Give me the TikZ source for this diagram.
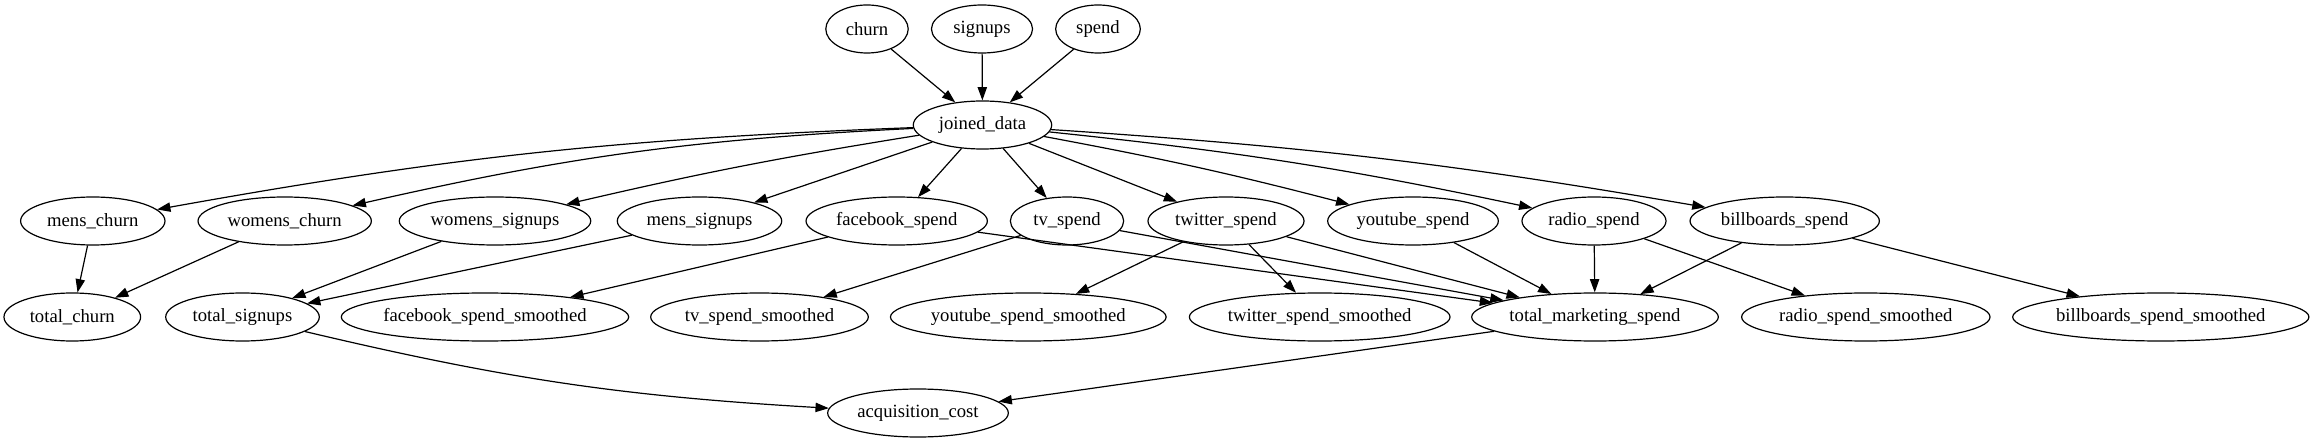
\documentclass[tikz,border=0pt]{standalone}
\usepackage{fontspec}
\setmainfont{Liberation Serif}
\usetikzlibrary{shapes.geometric,arrows.meta}
\tikzset{
	job/.style={draw, ellipse, line width=0.9pt, inner sep=0pt, minimum height=36pt, font=\fontsize{14}{16}\selectfont},
	dep/.style={-{Triangle[length=10pt,width=7pt]}, line width=0.9pt},
}

\begin{document}
\begin{tikzpicture}[x=0.75pt,y=0.75pt]
		\useasboundingbox (0,0) rectangle (2313,443);
		%%%%% SOURCES %%%%%
		\node[job, minimum width=61.8pt] (churn) at (867,414) {churn};
		\node[job, minimum width=75.8pt] (signups) at (982,414) {signups};
		\node[job, minimum width=63.5pt] (spend) at (1098,414) {spend};
		\node[job, minimum width=103.8pt] (joined) at (982.5,318) {joined\_data};
		
		%%%%% SPLITS %%%%%
		\node[job, minimum width=108.3pt] (menschurn) at (92.8,222) {mens\_churn};
		\node[job, minimum width=130pt] (womenschurn) at (284.7,222) {womens\_churn};
		\node[job, minimum width=143.6pt] (womenssignups) at (495,222) {womens\_signups};
		\node[job, minimum width=123.3pt] (menssignups) at (699.5,222) {mens\_signups};
		\node[job, minimum width=136pt] (facebook) at (896.7,222) {facebook\_spend};
		\node[job, minimum width=85pt] (tv) at (1067,222) {tv\_spend};
		\node[job, minimum width=117pt] (twitter) at (1226,222) {twitter\_spend};
		\node[job, minimum width=128pt] (youtube) at (1413,222) {youtube\_spend};
		\node[job, minimum width=108pt] (radio) at (1594,222) {radio\_spend};
		\node[job, minimum width=142pt] (billboards) at (1784.7,222) {billboards\_spend};
		
		%%%%% TOTALS AND SMOOTHED %%%%%
		\node[job, minimum width=102.5pt] (totalchurn) at (72.3,126) {total\_churn};
		\node[job, minimum width=115.2pt] (totalsignups) at (242.5,126) {total\_signups};
		\node[job, minimum width=213.5pt] (facebooksm) at (485,126) {facebook\_spend\_smoothed};
		\node[job, minimum width=163.2pt] (tvsm) at (759.5,126) {tv\_spend\_smoothed};
		\node[job, minimum width=206.5pt] (youtubesm) at (1028.3,126) {youtube\_spend\_smoothed};
		\node[job, minimum width=195.5pt] (twittersm) at (1319.7,126) {twitter\_spend\_smoothed};
		\node[job, minimum width=185pt] (totalspend) at (1595,126) {total\_marketing\_spend};
		\node[job, minimum width=186.3pt] (radiosm) at (1865.8,126) {radio\_spend\_smoothed};
		\node[job, minimum width=219.8pt] (billboardssm) at (2160.8,126) {billboards\_spend\_smoothed};
		
		\node[job, minimum width=135.5pt] (acqcost) at (918,30) {acquisition\_cost};
		
		%%%%% EDGES %%%%%
		\draw[dep] (churn) -- (joined);
		\draw[dep] (signups) -- (joined);
		\draw[dep] (spend) -- (joined);
		
		\draw[dep] (joined) to[bend right=4] (menschurn);
		\draw[dep] (joined) to[bend right=5] (womenschurn);
		\draw[dep] (joined) to[bend right=2] (womenssignups);
		\draw[dep] (joined) -- (menssignups);
		\draw[dep] (joined) -- (facebook);
		\draw[dep] (joined) -- (tv);
		\draw[dep] (joined) -- (twitter);
		\draw[dep] (joined) to[bend left=2] (youtube);
		\draw[dep] (joined) to[bend left=3] (radio);
		\draw[dep] (joined) to[bend left=3] (billboards);
		
		\draw[dep] (menschurn) -- (totalchurn);
		\draw[dep] (womenschurn) -- (totalchurn);
		\draw[dep] (womenssignups) -- (totalsignups);
		\draw[dep] (menssignups) -- (totalsignups);
		
		\draw[dep] (facebook) -- (facebooksm);
		\draw[dep] (facebook) -- (totalspend);
		\draw[dep] (tv) -- (tvsm);
		\draw[dep] (tv) -- (totalspend);
		\draw[dep] (twitter) -- (youtubesm);
		\draw[dep] (twitter) -- (twittersm);
		\draw[dep] (twitter) -- (totalspend);
		\draw[dep] (youtube) -- (totalspend);
		\draw[dep] (radio) -- (totalspend);
		\draw[dep] (radio) -- (radiosm);
		\draw[dep] (billboards) -- (totalspend);
		\draw[dep] (billboards) -- (billboardssm);
		
		\draw[dep] (totalsignups) to[bend right=5] (acqcost);
		\draw[dep] (totalspend) -- (acqcost);
	\end{tikzpicture}
\end{document}
